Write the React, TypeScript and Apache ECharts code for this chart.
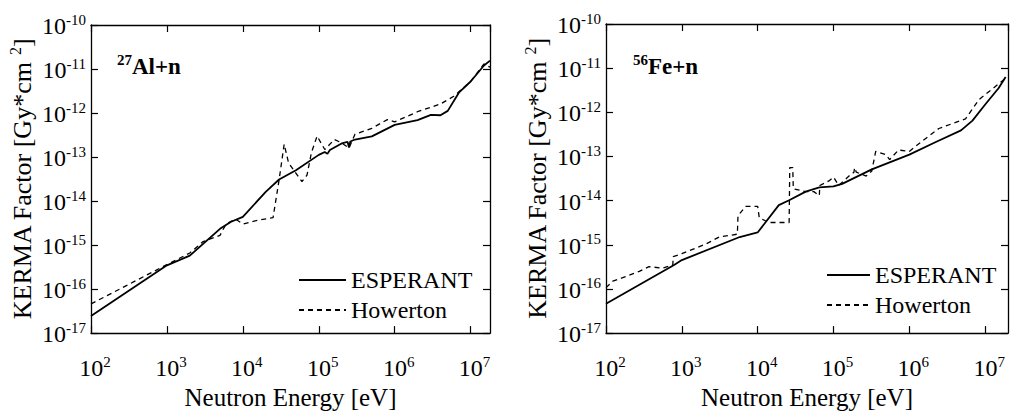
import React, { useEffect, useRef } from "react";
import * as echarts from "echarts";

// ---- Data ----
const alEsperantE = [1e2, 1e3, 2e3, 5e3, 7e3, 1e4, 2e4, 3e4, 5e4, 1e5, 1.2e5, 1.3e5, 1.4e5, 2e5, 2.4e5, 2.5e5, 2.6e5, 3e5, 5e5, 1e6, 2e6, 3e6, 4e6, 5e6, 7e6, 1e7, 1.5e7, 1.8e7];
const alEsperantK = [2.45e-17, 3.47e-16, 5.75e-16, 2.34e-15, 3.39e-15, 4.37e-15, 1.62e-14, 3.09e-14, 5.0e-14, 1.12e-13, 1.3e-13, 1.18e-13, 1.45e-13, 2.04e-13, 2.2e-13, 1.65e-13, 2.25e-13, 2.5e-13, 2.95e-13, 5.37e-13, 6.9e-13, 9.1e-13, 8.9e-13, 1.12e-12, 2.9e-12, 5.2e-12, 1.2e-11, 1.55e-11];

const alHowertonE = [1e2, 1e3, 2e3, 3e3, 5e3, 6e3, 8e3, 1e4, 1.5e4, 2.5e4, 3e4, 3.5e4, 4e4, 6e4, 7e4, 8e4, 9.5e4, 1.2e5, 1.6e5, 2e5, 2.5e5, 3e5, 5e5, 8e5, 1e6, 2e6, 4e6, 6e6, 1e7, 1.5e7, 1.8e7];
const alHowertonK = [4.6e-17, 3.6e-16, 6.6e-16, 1.2e-15, 1.66e-15, 3.0e-15, 3.9e-15, 3.0e-15, 3.6e-15, 4.2e-15, 3.0e-14, 1.95e-13, 7.4e-14, 2.75e-14, 3.9e-14, 1.26e-13, 3.0e-13, 1.48e-13, 2.5e-13, 2.1e-13, 1.6e-13, 3.3e-13, 4.5e-13, 7.1e-13, 6.3e-13, 1.07e-12, 1.6e-12, 2.4e-12, 5.2e-12, 1.3e-11, 1.1e-11];

const feEsperantE = [1e2, 7.9e2, 1e3, 5.8e3, 1e4, 1.9e4, 2.6e4, 4.3e4, 6.5e4, 1e5, 1.3e5, 3.2e5, 1e6, 2.2e6, 4.8e6, 6.8e6, 1e7, 1.5e7, 1.86e7];
const feEsperantK = [4.6e-17, 3.5e-16, 4.5e-16, 1.5e-15, 1.9e-15, 7.9e-15, 1.02e-14, 1.6e-14, 2.0e-14, 2.1e-14, 2.4e-14, 5.1e-14, 1.1e-13, 2.1e-13, 3.9e-13, 6.5e-13, 1.5e-12, 3.5e-12, 6.3e-12];

const feHowertonE = [1e2, 1.23e2, 1.66e2, 2.75e2, 3.7e2, 5.6e2, 7.6e2, 7.7e2, 1e3, 2.1e3, 3.1e3, 5.4e3, 5.5e3, 6.9e3, 1e4, 1.05e4, 1.4e4, 2.6e4, 2.65e4, 2.9e4, 2.95e4, 4.3e4, 5.5e4, 6.5e4, 6.6e4, 8.7e4, 1e5, 1.17e5, 1.6e5, 1.86e5, 1.9e5, 2.0e5, 2.7e5, 3.2e5, 3.6e5, 4.9e5, 5.5e5, 7.2e5, 1e6, 1.26e6, 2.45e6, 5.5e6, 8.3e6, 1.86e7];
const feHowertonK = [1.07e-16, 1.5e-16, 1.8e-16, 2.5e-16, 3.2e-16, 2.95e-16, 3.5e-16, 5.4e-16, 6.3e-16, 1.05e-15, 1.5e-15, 1.74e-15, 4.5e-15, 7.4e-15, 7.4e-15, 4.1e-15, 3.2e-15, 3.2e-15, 5.6e-14, 5.6e-14, 1.86e-14, 1.6e-14, 1.6e-14, 1.3e-14, 2.2e-14, 2.8e-14, 3.4e-14, 2.2e-14, 3.6e-14, 4.4e-14, 5.6e-14, 4.4e-14, 3.6e-14, 4.7e-14, 1.3e-13, 1.1e-13, 8.5e-14, 1.4e-13, 1.3e-13, 1.8e-13, 4.3e-13, 7.1e-13, 1.95e-12, 5.9e-12];

const seriesNames = ["ESPERANT", "Howerton"];
const panelLabels = [
  { mass: "27", element: "Al+n" },
  { mass: "56", element: "Fe+n" },
];
const xMin = 1e2;
const xMaxes = [1.8e7, 2e7];
const yMin = 1e-17;
const yMax = 1e-10;
const xTitle = "Neutron Energy [eV]";

const FONT = "Liberation Serif";

const pairs = (xs: number[], ys: number[]) => xs.map((x, i) => [x, ys[i]]);

const expLabel = (v: number) => {
  const e = Math.round(Math.log10(v));
  return `{b|10}{s|${e}}`;
};

const labelRich = {
  b: { fontSize: 24, fontFamily: FONT, color: "#000", lineHeight: 26, verticalAlign: "bottom" },
  s: { fontSize: 15, fontFamily: FONT, color: "#000", lineHeight: 15, verticalAlign: "top" },
};

export default function App() {
  const ref = useRef<HTMLDivElement>(null);

  useEffect(() => {
    if (!ref.current) return;
    const chart = echarts.init(ref.current, null, { renderer: "svg" });

    const grids = [
      { left: 91, top: 25, width: 399, height: 318 },
      { left: 606, top: 24, width: 402, height: 318 },
    ];

    const axisLine = { show: true, lineStyle: { color: "#000", width: 1.3 } };
    const axisTick = { show: true, inside: true, length: 7, lineStyle: { color: "#000", width: 1.2 } };

    const xAxis: any[] = [];
    const yAxis: any[] = [];
    grids.forEach((_, gi) => {
      xAxis.push({
        gridIndex: gi,
        type: "log",
        logBase: 10,
        min: xMin,
        max: xMaxes[gi],
        position: "bottom",
        axisLine,
        axisTick,
        splitLine: { show: false },
        axisLabel: {
          formatter: expLabel,
          rich: labelRich,
          fontFamily: FONT,
          margin: 21,
          padding: [0, 0, 0, 8],
          showMaxLabel: false,
        },
        name: `{t|${xTitle}}`,
        nameLocation: "middle",
        nameGap: 34,
        nameTextStyle: {
          fontSize: 25,
          fontFamily: FONT,
          color: "#000",
          rich: { t: { fontSize: 25, fontFamily: FONT, color: "#000", lineHeight: 28 } },
        },
      });
      xAxis.push({
        gridIndex: gi,
        type: "log",
        logBase: 10,
        min: xMin,
        max: xMaxes[gi],
        position: "top",
        axisLine,
        axisTick,
        splitLine: { show: false },
        axisLabel: { show: false },
      });
      yAxis.push({
        gridIndex: gi,
        type: "log",
        logBase: 10,
        min: yMin,
        max: yMax,
        position: "left",
        axisLine,
        axisTick,
        splitLine: { show: false },
        axisLabel: {
          formatter: expLabel,
          rich: labelRich,
          fontFamily: FONT,
          margin: 5,
        },
        name: "{n|KERMA Factor [Gy*cm }{s|2}{n|]}",
        nameLocation: "middle",
        nameRotate: 90,
        nameGap: 56,
        nameTextStyle: {
          fontSize: 26,
          fontFamily: FONT,
          color: "#000",
          rich: {
            n: { fontSize: 26, fontFamily: FONT, color: "#000", lineHeight: 28, verticalAlign: "bottom" },
            s: { fontSize: 16, fontFamily: FONT, color: "#000", lineHeight: 15, verticalAlign: "top" },
          },
        },
      });
      yAxis.push({
        gridIndex: gi,
        type: "log",
        logBase: 10,
        min: yMin,
        max: yMax,
        position: "right",
        axisLine,
        axisTick,
        splitLine: { show: false },
        axisLabel: { show: false },
      });
    });

    const solid = { color: "#000", width: 1.8, type: "solid" };
    const dashed = { color: "#000", width: 1.3, type: [5, 4] };

    const mkSeries = (name: string, data: number[][], gi: number, ls: any) => ({
      type: "line",
      name,
      xAxisIndex: gi * 2,
      yAxisIndex: gi * 2,
      data,
      symbol: "none",
      showSymbol: false,
      lineStyle: ls,
      itemStyle: { color: "#000" },
      silent: true,
    });

    const series = [
      mkSeries(seriesNames[0], pairs(alEsperantE, alEsperantK), 0, solid),
      mkSeries(seriesNames[1], pairs(alHowertonE, alHowertonK), 0, dashed),
      mkSeries(seriesNames[0], pairs(feEsperantE, feEsperantK), 1, solid),
      mkSeries(seriesNames[1], pairs(feHowertonE, feHowertonK), 1, dashed),
    ];

    const legendBase = {
      orient: "vertical",
      itemHeight: 14,
      itemGap: 0,
      padding: 0,
      data: seriesNames,
      selectedMode: false,
      itemStyle: { opacity: 0 },
      formatter: (name: string) => `{t|${name}}`,
      textStyle: {
        fontSize: 24,
        fontFamily: FONT,
        color: "#000",
        lineHeight: 30,
        rich: { t: { fontSize: 24, fontFamily: FONT, color: "#000", lineHeight: 30 } },
      },
    };

    const annRich = {
      s: { fontSize: 15, fontFamily: FONT, fill: "#000", color: "#000", fontWeight: "bold", lineHeight: 15, verticalAlign: "top" },
      m: { fontSize: 23, fontFamily: FONT, fill: "#000", color: "#000", fontWeight: "bold", lineHeight: 26, verticalAlign: "bottom" },
    };

    chart.setOption({
      animation: false,
      backgroundColor: "#fff",
      textStyle: { fontFamily: FONT },
      grid: grids,
      xAxis,
      yAxis,
      series,
      legend: [
        { ...legendBase, left: 298, top: 265, itemWidth: 47 },
        { ...legendBase, left: 826, top: 260, itemWidth: 43 },
      ],
      graphic: [
        {
          type: "text",
          left: 117,
          top: 52,
          style: { text: `{s|${panelLabels[0].mass}}{m|${panelLabels[0].element}}`, rich: annRich },
        },
        {
          type: "text",
          left: 633,
          top: 52,
          style: { text: `{s|${panelLabels[1].mass}}{m|${panelLabels[1].element}}`, rich: annRich },
        },
      ],
    });

    return () => chart.dispose();
  }, []);

  return (
    <div
      ref={ref}
      style={{ position: "fixed", left: 0, top: 0, width: 1012, height: 415, background: "#fff" }}
    />
  );
}
